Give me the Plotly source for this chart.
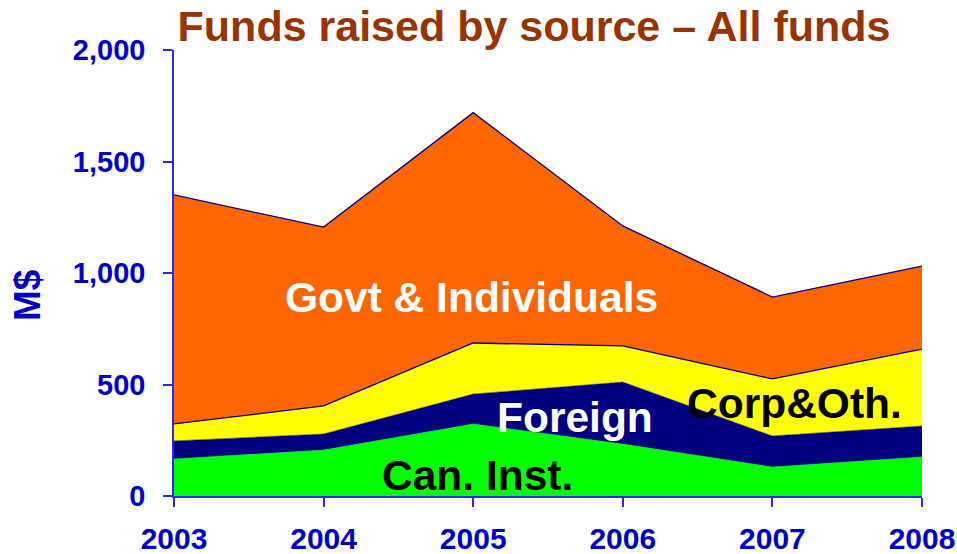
import plotly.graph_objects as go

years = [2003, 2004, 2005, 2006, 2007, 2008]
can_inst = [166, 206, 323, 233, 130, 175]
foreign = [81, 72, 134, 278, 139, 139]
corp_oth = [76, 126, 229, 162, 256, 345]
govt_ind = [1027, 802, 1033, 538, 367, 372]

y_ticks = [0, 500, 1000, 1500, 2000]
y_tick_text = ["0", "500", "1,000", "1,500", "2,000"]

AX = "#0000CC"
LINE = "#2A2AE6"

fig = go.Figure()
series = [
    ("Can. Inst.", can_inst, "#00FF00", 0),
    ("Foreign", foreign, "#000080", 0),
    ("Corp&Oth.", corp_oth, "#FFFF00", 1.3),
    ("Govt & Individuals", govt_ind, "#FF6600", 1.3),
]
for name, vals, col, lw in series:
    fig.add_trace(go.Scatter(
        x=years, y=vals, name=name, mode="lines", stackgroup="one",
        fillcolor=col,
        line=dict(color="#000080" if lw else col, width=lw if lw else 0.5),
    ))

anns = [
    ("Govt & Individuals", 2004.99, 888, "white", 42.5),
    ("Foreign", 2005.68, 354, "white", 42.5),
    ("Corp&Oth.", 2007.15, 413, "black", 42.5),
    ("Can. Inst.", 2005.03, 90, "black", 42.5),
]
for txt, xx, yy, c, fs in anns:
    fig.add_annotation(x=xx, y=yy, text="<b>%s</b>" % txt, showarrow=False,
                       font=dict(color=c, family="Liberation Sans, Arial, sans-serif", size=fs),
                       xanchor="center", yanchor="middle")

# y-axis title
fig.add_annotation(x=-0.1965, xref="paper", y=901, yref="y", text="<b>M$</b>", textangle=-90,
                   showarrow=False, xanchor="center", yanchor="middle",
                   font=dict(family="Liberation Sans, Arial, sans-serif", size=37, color=AX))

fig.update_layout(
    width=957, height=554,
    margin=dict(l=174, r=35, t=50, b=58, autoexpand=False),
    paper_bgcolor="white", plot_bgcolor="white",
    showlegend=False,
    title=dict(text="<b>Funds raised by source – All funds</b>",
               font=dict(family="Liberation Sans Narrow, Arial Narrow, sans-serif", size=43, color="#993300"),
               x=534 / 957, xanchor="center", yref="container", y=1 - 11 / 554, yanchor="top"),
    xaxis=dict(range=[2003, 2008], tickvals=years, ticktext=["<b>%s</b>" % y for y in years],
               showgrid=False, zeroline=False, showline=True, linecolor=LINE, linewidth=1.5,
               ticks="outside", ticklen=9, tickcolor=LINE, tickwidth=1.5, automargin=False,
               tickfont=dict(family="Liberation Sans, Arial, sans-serif", size=30, color=AX),
               ticklabelstandoff=6),
    yaxis=dict(range=[0, 2000], tickvals=y_ticks, ticktext=["<b>%s</b>" % t for t in y_tick_text],
               showgrid=False, zeroline=False, showline=True, linecolor=LINE, linewidth=1.5,
               ticks="outside", ticklen=9, tickcolor=LINE, tickwidth=1.5, automargin=False,
               tickfont=dict(family="Liberation Sans, Arial, sans-serif", size=29, color=AX),
               ticklabelstandoff=12),
)

fig.write_html("out.html", config={"displayModeBar": False},
               post_script="document.body.style.margin='0';document.body.style.overflow='hidden';")
